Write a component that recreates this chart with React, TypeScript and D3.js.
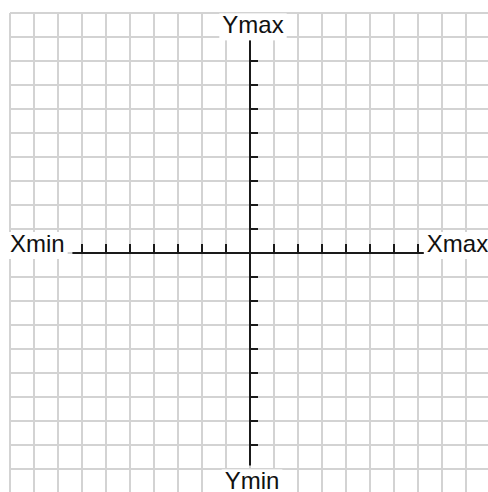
import React, { useLayoutEffect, useRef, useState } from 'react'
import * as d3 from 'd3'

/* picture size and where the grid sits */
const width = 488
const height = 492
const cell = 24
const origin = { x: 250, y: 253 }

/* data */
const gridValues = [-10, -9, -8, -7, -6, -5, -4, -3, -2, -1, 0, 1, 2, 3, 4, 5, 6, 7, 8, 9, 10]
const xTicks = [-7, -6, -5, -4, -3, -2, -1, 1, 2, 3, 4, 5, 6, 7]
const yTicks = [-8, -7, -6, -5, -4, -3, -2, -1, 1, 2, 3, 4, 5, 6, 7, 8]
const xAxisExtent = [-7.4, 7.4]
const yAxisExtent = [-8.85, 8.9]
const axisLabels = ['Xmin', 'Xmax', 'Ymin', 'Ymax']

const x = d3
    .scaleLinear()
    .domain([-10, 10])
    .range([origin.x - 10 * cell, origin.x + 10 * cell])
const y = d3
    .scaleLinear()
    .domain([-10, 10])
    .range([origin.y + 10 * cell, origin.y - 10 * cell])

const fontSize = 24
const pad = 3

/* where each label sits: x, baseline, anchor */
const labelPlace: Record<string, { x: number; y: number; anchor: string }> = {
    Xmin: { x: x(-10), y: origin.y - 1, anchor: 'start' },
    Xmax: { x: x(7.2) + 4, y: origin.y - 1, anchor: 'start' },
    Ymin: { x: origin.x + 2, y: y(-9.85), anchor: 'middle' },
    Ymax: { x: origin.x + 3, y: y(9.15), anchor: 'middle' },
}

type Box = { x: number; y: number; width: number; height: number }

export default function App() {
    const textRefs = useRef<(SVGTextElement | null)[]>([])
    const [boxes, setBoxes] = useState<Box[]>([])

    /* measure each label so the white box behind it fits */
    useLayoutEffect(() => {
        const b = textRefs.current.map((t) => {
            if (!t) return { x: 0, y: 0, width: 0, height: 0 }
            const r = t.getBBox()
            return {
                x: r.x - pad,
                y: r.y + 2,
                width: r.width + pad * 2,
                height: r.height,
            }
        })
        setBoxes(b)
    }, [])

    return (
        <svg
            width={width}
            height={height}
            style={{ position: 'absolute', left: 0, top: 0, display: 'block', background: '#fff' }}
        >
            {/* grid */}
            <g stroke="#d3d3d3" strokeWidth={2}>
                {gridValues.map((v) => (
                    <line key={'v' + v} x1={x(v)} x2={x(v)} y1={y(10)} y2={y(-10)} />
                ))}
                {gridValues.map((v) => (
                    <line key={'h' + v} x1={x(-10)} x2={x(10)} y1={y(v)} y2={y(v)} />
                ))}
            </g>

            {/* axes */}
            <g stroke="#1a1a1a" strokeWidth={2}>
                <line x1={x(xAxisExtent[0])} x2={x(xAxisExtent[1])} y1={y(0)} y2={y(0)} />
                <line x1={x(0)} x2={x(0)} y1={y(yAxisExtent[1])} y2={y(yAxisExtent[0])} />
                {xTicks.map((v) => (
                    <line key={'xt' + v} x1={x(v)} x2={x(v)} y1={y(0)} y2={y(0) - 9} />
                ))}
                {yTicks.map((v) => (
                    <line key={'yt' + v} x1={x(0)} x2={x(0) + 8} y1={y(v)} y2={y(v)} />
                ))}
            </g>

            {/* label boxes and text */}
            {boxes.map((b, i) => (
                <rect key={'b' + i} x={b.x} y={b.y} width={b.width} height={b.height} fill="#fff" />
            ))}
            {axisLabels.map((l, i) => (
                <text
                    key={l}
                    ref={(el) => {
                        textRefs.current[i] = el
                    }}
                    x={labelPlace[l].x}
                    y={labelPlace[l].y}
                    textAnchor={labelPlace[l].anchor}
                    fontFamily="'Liberation Sans', Arial, sans-serif"
                    fontSize={fontSize}
                    fill="#111"
                >
                    {l}
                </text>
            ))}
        </svg>
    )
}
